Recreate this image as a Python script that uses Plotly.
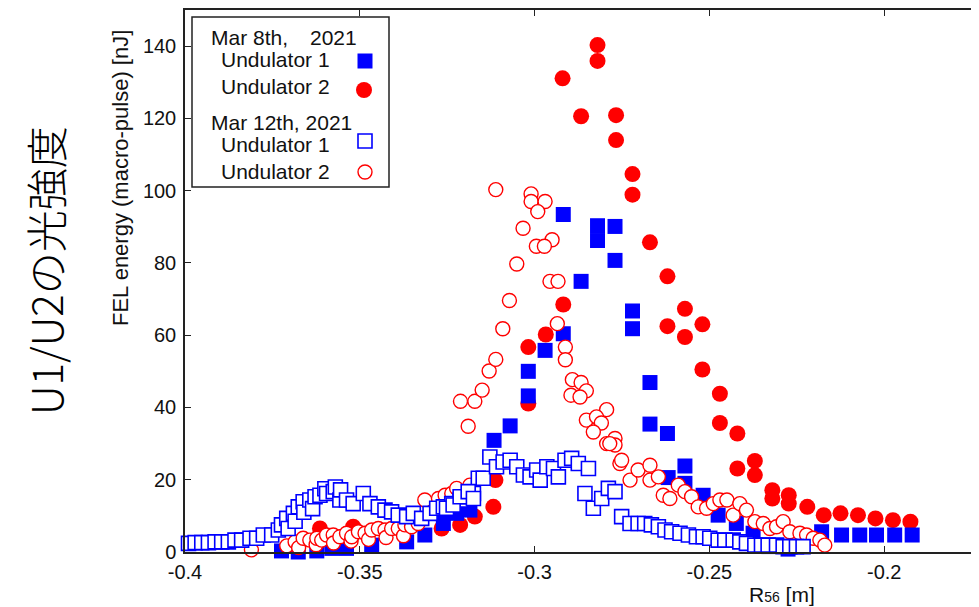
import plotly.graph_objects as go

# ---------------- data ----------------
# Mar 8th, 2021 - Undulator 1 (filled blue squares)
u1_mar8_x = [-0.3724, -0.3676, -0.3623, -0.358, -0.3538, -0.3466, -0.3366, -0.3314, -0.3261, -0.3223,
             -0.3185, -0.3116, -0.307, -0.3018, -0.3018, -0.297, -0.2918, -0.2918, -0.2867, -0.282,
             -0.282, -0.277, -0.277, -0.272, -0.272, -0.267, -0.267, -0.262, -0.2618, -0.257,
             -0.257, -0.2518, -0.2475, -0.2423, -0.2375, -0.233, -0.2275, -0.2179, -0.2122, -0.207,
             -0.2022, -0.197, -0.192]
u1_mar8_y = [0.3, 0.0, 0.3, 1.0, 1.0, 1.9, 2.8, 4.7, 7.9, 10.7,
             11.6, 30.9, 34.9, 43.2, 50.0, 55.8, 60.4, 93.4, 74.9, 90.3,
             86.2, 90.1, 80.7, 66.7, 61.8, 46.9, 35.4, 32.8, 20.6, 23.8,
             19.0, 15.7, 10.2, 7.9, 5.2, 1.5, 0.8, 5.6, 4.7, 4.7,
             4.7, 4.7, 4.7]

# Mar 8th, 2021 - Undulator 2 (filled red circles)
u2_mar8_x = [-0.3614, -0.3519, -0.3266, -0.3213, -0.3171, -0.3118, -0.3112, -0.3018, -0.3018, -0.2968,
             -0.2918, -0.292, -0.2867, -0.282, -0.282, -0.2767, -0.2767, -0.272, -0.272, -0.267,
             -0.262, -0.262, -0.257, -0.257, -0.252, -0.252, -0.247, -0.247, -0.242, -0.242,
             -0.237, -0.237, -0.232, -0.232, -0.2273, -0.2273, -0.222, -0.2173, -0.2125, -0.2075,
             -0.2025, -0.1975, -0.1925]
u2_mar8_y = [6.5, 7.0, 6.5, 7.5, 9.8, 12.5, 19.9, 41.1, 56.7, 60.2,
             68.5, 131.1, 120.6, 140.3, 135.9, 120.9, 114.0, 104.6, 98.9, 85.7,
             76.3, 62.5, 67.3, 59.5, 63.0, 50.5, 43.8, 35.7, 32.8, 23.1,
             25.2, 21.3, 17.1, 14.8, 15.7, 13.4, 12.5, 10.2, 10.7, 10.2,
             9.3, 8.8, 8.4]

# Mar 12th, 2021 - Undulator 2 (open red circles)
u2_mar12_x = [-0.381, -0.3709, -0.3685, -0.3675, -0.3662, -0.3643, -0.3625, -0.3623, -0.3609, -0.3595,
              -0.3576, -0.3575, -0.3557, -0.3538, -0.3525, -0.3523, -0.3504, -0.3485, -0.3475, -0.3466,
              -0.3447, -0.3428, -0.3425, -0.3409, -0.339, -0.3375, -0.3371, -0.3352, -0.3333, -0.3314,
              -0.3275, -0.3256, -0.3237, -0.3223, -0.3185, -0.3212, -0.3171, -0.319, -0.315, -0.313,
              -0.3111, -0.3091, -0.3072, -0.3051, -0.3033, -0.3111, -0.301, -0.301, -0.297, -0.2991,
              -0.295, -0.2995, -0.2972, -0.2956, -0.2933, -0.2935, -0.2912, -0.2912, -0.2892, -0.2867,
              -0.2852, -0.2896, -0.287, -0.2794, -0.2852, -0.2823, -0.2809, -0.2832, -0.2794, -0.277,
              -0.277, -0.2785, -0.2756, -0.2751, -0.2727, -0.2704, -0.267, -0.267, -0.2646, -0.2632,
              -0.2613, -0.2589, -0.257, -0.2551, -0.2532, -0.2508, -0.2489, -0.247, -0.245, -0.2432,
              -0.2413, -0.2394, -0.237, -0.2346, -0.2327, -0.2308, -0.2289, -0.227, -0.2241, -0.2222,
              -0.2203, -0.2184, -0.217]
u2_mar12_y = [0.6, 1.7, 2.8, 1.2, 3.8, 3.3, 2.0, 3.8, 3.3, 4.7,
              4.7, 2.5, 4.2, 5.2, 3.0, 4.2, 5.6, 5.2, 3.5, 6.1,
              6.5, 6.1, 4.0, 6.5, 6.5, 4.5, 7.5, 7.0, 7.9, 14.4,
              14.8, 15.7, 16.2, 17.6, 18.5, 41.7, 41.7, 34.8, 44.8, 50.1,
              53.3, 61.8, 69.6, 79.7, 89.6, 100.3, 99.1, 97.0, 97.0, 94.2,
              86.4, 84.6, 84.6, 74.9, 74.9, 63.2, 56.7, 53.2, 47.7, 46.9,
              44.6, 43.4, 42.9, 39.4, 36.5, 37.4, 35.7, 33.2, 30.0, 31.4,
              29.6, 30.0, 24.5, 25.4, 19.9, 22.7, 24.0, 19.9, 20.8, 15.7,
              14.8, 18.5, 16.7, 15.3, 12.5, 12.1, 13.4, 14.4, 14.4, 10.2,
              13.4, 11.6, 8.4, 7.9, 6.5, 7.0, 8.4, 5.6, 5.2, 4.7,
              3.8, 3.3, 1.9]

# Mar 12th, 2021 - Undulator 1 (open blue squares)
u1_mar12_x = [-0.399, -0.3971, -0.3952, -0.3933, -0.3914, -0.3895, -0.3876, -0.3857, -0.3838, -0.3814,
              -0.3795, -0.3776, -0.3752, -0.3733, -0.3724, -0.3709, -0.3705, -0.369, -0.3685, -0.3676,
              -0.3662, -0.366, -0.3643, -0.3635, -0.3628, -0.3614, -0.36, -0.3595, -0.3576, -0.357,
              -0.3557, -0.3555, -0.3538, -0.3519, -0.349, -0.3471, -0.3447, -0.3428, -0.3409, -0.339,
              -0.3366, -0.3347, -0.3323, -0.3299, -0.328, -0.3261, -0.3237, -0.3213, -0.3194, -0.3175,
              -0.3161, -0.3252, -0.3233, -0.3213, -0.319, -0.3175, -0.3147, -0.3128, -0.3109, -0.309,
              -0.307, -0.3051, -0.3032, -0.3013, -0.2994, -0.2984, -0.2965, -0.2946, -0.2932, -0.2913,
              -0.2894, -0.2875, -0.2846, -0.2856, -0.2832, -0.2808, -0.2789, -0.277, -0.2751, -0.2727,
              -0.2704, -0.2685, -0.2666, -0.2646, -0.2627, -0.2608, -0.2584, -0.256, -0.2537, -0.2518,
              -0.2499, -0.2475, -0.2456, -0.2432, -0.2413, -0.2394, -0.237, -0.2351, -0.2332, -0.2308,
              -0.2289, -0.227, -0.2251, -0.2232]
u1_mar12_y = [2.4, 2.6, 2.6, 2.6, 2.8, 2.8, 2.8, 3.3, 3.3, 3.8,
              3.8, 4.7, 4.7, 6.1, 7.5, 9.3, 6.5, 10.7, 8.5, 12.5,
              13.9, 11.0, 14.4, 12.0, 15.3, 15.7, 17.5, 16.2, 16.7, 18.0,
              14.4, 17.2, 14.4, 13.4, 16.2, 13.4, 12.5, 11.6, 11.1, 10.2,
              9.8, 10.7, 9.3, 10.7, 12.1, 12.5, 13.4, 14.4, 15.3, 16.2,
              20.4, 12.1, 13.0, 15.3, 16.7, 14.8, 20.4, 26.3, 23.6, 24.9,
              25.4, 23.6, 21.3, 20.8, 22.7, 19.9, 23.6, 23.1, 20.8, 25.4,
              25.9, 24.5, 23.1, 16.2, 12.1, 14.8, 17.6, 16.7, 9.8, 7.9,
              7.9, 7.9, 7.5, 7.0, 6.1, 5.6, 5.2, 4.7, 4.2, 4.2,
              3.8, 3.3, 3.3, 3.3, 2.8, 2.4, 1.9, 1.9, 1.9, 1.9,
              1.5, 1.5, 1.5, 1.5]

x_tick_vals = [-0.4, -0.35, -0.3, -0.25, -0.2]
x_tick_text = ["-0.4", "-0.35", "-0.3", "-0.25", "-0.2"]
y_tick_vals = [0, 20, 40, 60, 80, 100, 120, 140]

# ---------------- figure ----------------
# The page body has an 8px margin, so the figure is sized to fill the rest of the window.
OFF = 8
W, H = 979 - OFF, 607 - OFF
L, R, T, B = 185 - OFF, 0, 10 - OFF, 55
PW, PH = W - L - R, H - T - B
BLUE, RED = "#0000ff", "#ff0000"
FONT = "Liberation Sans, Arial, Helvetica, sans-serif"


def px(xs):
    # screen pixel x -> paper fraction
    return (xs - OFF - L) / PW


def py(ys):
    # screen pixel y -> paper fraction
    return (H - B - (ys - OFF)) / PH


fig = go.Figure()
fig.add_trace(go.Scatter(x=u2_mar8_x, y=u2_mar8_y, mode="markers", name="Mar 8th U2",
                         marker=dict(symbol="circle", size=16, color=RED, line=dict(width=0)),
                         cliponaxis=False))
fig.add_trace(go.Scatter(x=u1_mar8_x, y=u1_mar8_y, mode="markers", name="Mar 8th U1",
                         marker=dict(symbol="square", size=15, color=BLUE, line=dict(width=0)),
                         cliponaxis=False))
fig.add_trace(go.Scatter(x=u2_mar12_x, y=u2_mar12_y, mode="markers", name="Mar 12th U2",
                         marker=dict(symbol="circle", size=14, color="white",
                                     line=dict(width=1.4, color=RED)),
                         cliponaxis=False))
fig.add_trace(go.Scatter(x=u1_mar12_x, y=u1_mar12_y, mode="markers", name="Mar 12th U1",
                         marker=dict(symbol="square", size=14, color="white",
                                     line=dict(width=1.6, color=BLUE)),
                         cliponaxis=False))

axis_common = dict(showgrid=False, zeroline=False, showline=True, linecolor="#222",
                   linewidth=1.5, ticks="inside", ticklen=6, tickwidth=1.3, tickcolor="#222",
                   tickfont=dict(family=FONT, size=20, color="#111"))

fig.update_layout(
    width=W, height=H, margin=dict(l=L, r=R, t=T, b=B, pad=0),
    paper_bgcolor="white", plot_bgcolor="white", showlegend=False,
    xaxis=dict(range=[-0.4, -0.4 + PW / 174.8 * 0.05], tickvals=x_tick_vals, ticktext=x_tick_text,
               mirror="ticks", ticklabelstandoff=1, **axis_common),
    yaxis=dict(range=[0, 150], tickvals=y_tick_vals, mirror=False, ticklabelstandoff=3,
               **axis_common),
)

ann = []
# axis titles
ann.append(dict(x=px(120), y=py(178), xref="paper", yref="paper", text="FEL energy (macro-pulse) [nJ]",
                textangle=-90, showarrow=False, xanchor="center", yanchor="middle",
                font=dict(family=FONT, size=22, color="#111")))
ann.append(dict(x=px(782), y=py(594), xref="paper", yref="paper",
                text="R<span style='font-size:14px'>56</span> [m]",
                showarrow=False, xanchor="center", yanchor="middle",
                font=dict(family=FONT, size=21, color="#111")))
# big Japanese label
ann.append(dict(x=px(44), y=py(271), xref="paper", yref="paper",
                text="U1/U2の光強度",
                textangle=-90, showarrow=False, xanchor="center", yanchor="middle",
                font=dict(family="Noto Sans CJK JP", size=42, color="black", weight=300)))

# legend (drawn manually: labels left, symbols right)
leg_font = dict(family=FONT, size=21, color="#111")
ann.append(dict(x=px(209), y=py(38), xref="paper", yref="paper", text="Mar 8th,", showarrow=False,
                xanchor="left", yanchor="middle", font=leg_font))
ann.append(dict(x=px(359), y=py(38), xref="paper", yref="paper", text="2021", showarrow=False,
                xanchor="right", yanchor="middle", font=leg_font))
ann.append(dict(x=px(219), y=py(59), xref="paper", yref="paper", text="Undulator 1", showarrow=False,
                xanchor="left", yanchor="middle", font=leg_font))
ann.append(dict(x=px(219), y=py(87), xref="paper", yref="paper", text="Undulator 2", showarrow=False,
                xanchor="left", yanchor="middle", font=leg_font))
ann.append(dict(x=px(209), y=py(123), xref="paper", yref="paper", text="Mar 12th, 2021", showarrow=False,
                xanchor="left", yanchor="middle", font=leg_font))
ann.append(dict(x=px(219), y=py(144), xref="paper", yref="paper", text="Undulator 1", showarrow=False,
                xanchor="left", yanchor="middle", font=leg_font))
ann.append(dict(x=px(219), y=py(172), xref="paper", yref="paper", text="Undulator 2", showarrow=False,
                xanchor="left", yanchor="middle", font=leg_font))
fig.update_layout(annotations=ann)

shapes = [
    dict(type="rect", xref="paper", yref="paper", x0=px(192), x1=px(389), y0=py(187), y1=py(17),
         line=dict(color="#222", width=1.5), fillcolor="white", layer="above"),
    dict(type="rect", xref="paper", yref="paper", x0=px(357.5), x1=px(372.5), y0=py(68.5), y1=py(53.5),
         line=dict(width=0), fillcolor=BLUE, layer="above"),
    dict(type="circle", xref="paper", yref="paper", x0=px(356), x1=px(372), y0=py(98), y1=py(82),
         line=dict(width=0), fillcolor=RED, layer="above"),
    dict(type="rect", xref="paper", yref="paper", x0=px(358), x1=px(372), y0=py(148), y1=py(134),
         line=dict(color=BLUE, width=1.6), fillcolor="white", layer="above"),
    dict(type="circle", xref="paper", yref="paper", x0=px(358), x1=px(372), y0=py(179), y1=py(165),
         line=dict(color=RED, width=1.4), fillcolor="white", layer="above"),
]
fig.update_layout(shapes=shapes)

fig.write_html("out.html")
